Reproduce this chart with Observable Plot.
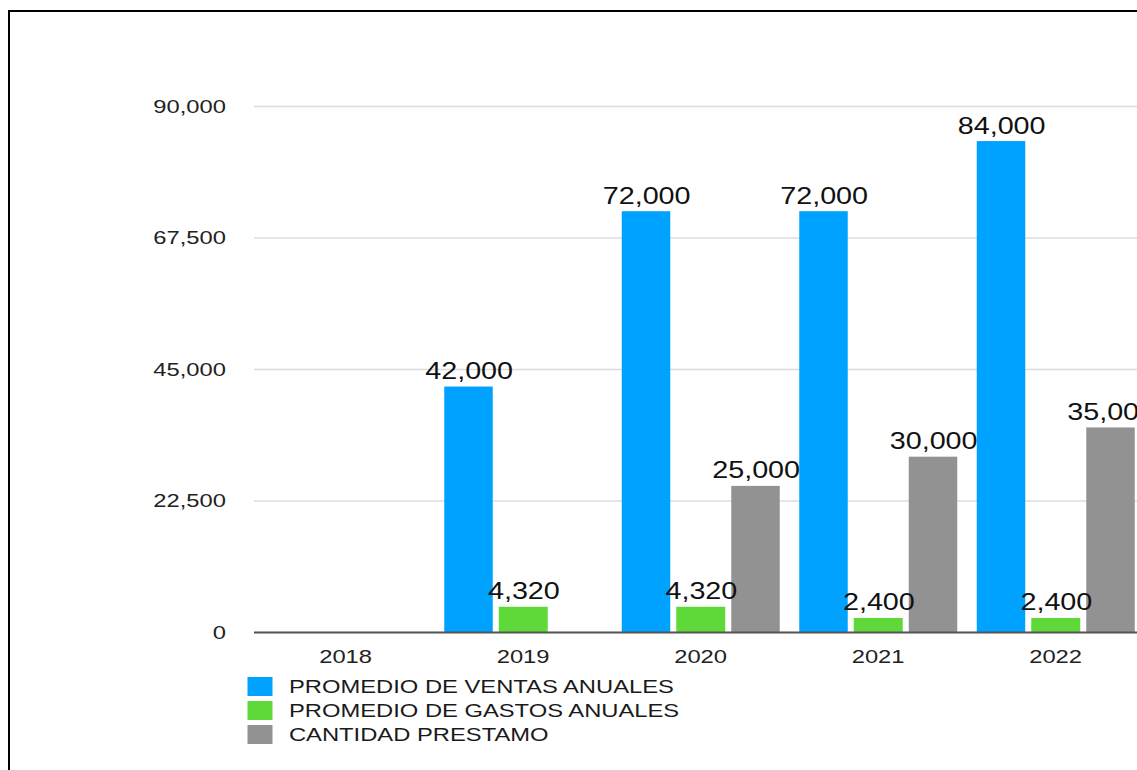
<!DOCTYPE html>
<html>
<head>
<meta charset="utf-8">
<script src="https://cdn.jsdelivr.net/npm/d3@7"></script>
<script src="https://cdn.jsdelivr.net/npm/@observablehq/plot@0.6"></script>
<style>
  html, body { margin: 0; padding: 0; background: #fff; overflow: hidden; width: 1137px; height: 770px; }
  #frame { position: absolute; left: 8px; top: 10px; width: 1300px; height: 900px; border: 2.5px solid #000; box-sizing: border-box; }
  #stretch { position: absolute; left: 0; top: 0; transform: scaleX(1.25); transform-origin: 0 0; }
  #chart svg { display: block; overflow: visible; }
  .legend { margin-left: 198.4px; margin-top: 4.5px; font-family: "Liberation Sans", Arial, sans-serif; font-size: 19px; color: #1a1a1a; }
  .row { display: flex; align-items: center; height: 24px; white-space: nowrap; }
  .sw { width: 19.2px; height: 19px; margin-right: 13.6px; flex: none; }
</style>
</head>
<body>
<div id="frame"></div>
<div id="stretch">
  <div id="chart"></div>
  <div class="legend" id="legend"></div>
</div>
<script>
const years = ["2018", "2019", "2020", "2021", "2022"];
const ventas = [null, 42000, 72000, 72000, 84000];
const gastos = [null, 4320, 4320, 2400, 2400];
const prestamo = [null, null, 25000, 30000, 35000];
const seriesNames = ["PROMEDIO DE VENTAS ANUALES", "PROMEDIO DE GASTOS ANUALES", "CANTIDAD PRESTAMO"];
const seriesColors = ["#00A2FF", "#5FD93A", "#929292"];
const yTicks = [0, 22500, 45000, 67500, 90000];

const seriesValues = [ventas, gastos, prestamo];
// bar placement inside each year band (unscaled px): [insetLeft, insetRight, label dx]
const placement = [[8.4, 94.8, -43.2], [52, 50.8, 0.6], [96, 7.2, 44.4]];

const rows = seriesValues.map((vals, s) =>
  years.map((y, i) => ({year: y, value: vals[i], series: seriesNames[s]})).filter(d => d.value != null)
);

const fmt = d3.format(",");
const marks = [
  Plot.ruleY(yTicks, {stroke: "#dcdcdc", strokeWidth: 1.5})
];
rows.forEach((data, s) => {
  marks.push(Plot.barY(data, {
    x: "year", y: "value", fill: seriesColors[s],
    insetLeft: placement[s][0], insetRight: placement[s][1]
  }));
});
rows.forEach((data, s) => {
  marks.push(Plot.text(data, {
    x: "year", y: "value", text: d => fmt(d.value),
    dx: placement[s][2], dy: -8, lineAnchor: "bottom",
    fontSize: 23, fill: "#111"
  }));
});
marks.push(Plot.ruleY([0], {stroke: "#555", strokeWidth: 2}));

const chart = Plot.plot({
  width: 940,
  height: 670,
  marginLeft: 203.2,
  marginRight: 22.8,
  marginTop: 106,
  marginBottom: 38,
  style: {fontFamily: "'Liberation Sans', Arial, sans-serif", fontSize: "19px", color: "#222", background: "transparent", overflow: "visible"},
  x: {domain: years, padding: 0, tickSize: 0, tickPadding: 16.5, label: null},
  y: {domain: [0, 90000], ticks: yTicks, tickFormat: d => fmt(d), tickSize: 0, tickPadding: 23, label: null},
  marks
});
document.getElementById("chart").appendChild(chart);

const legend = document.getElementById("legend");
seriesNames.forEach((name, s) => {
  const row = document.createElement("div");
  row.className = "row";
  const sw = document.createElement("div");
  sw.className = "sw";
  sw.style.background = seriesColors[s];
  const label = document.createElement("span");
  label.textContent = name;
  row.appendChild(sw);
  row.appendChild(label);
  legend.appendChild(row);
});
</script>
</body>
</html>
